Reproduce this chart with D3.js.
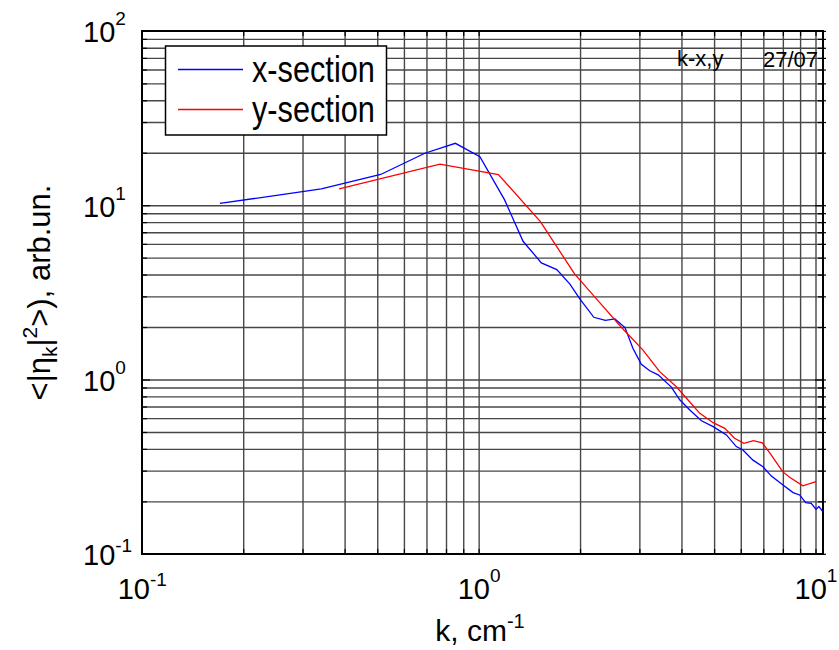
<!DOCTYPE html>
<html>
<head>
<meta charset="utf-8">
<script src="https://cdn.jsdelivr.net/npm/d3@7/dist/d3.min.js"></script>
<style>
  html, body { margin: 0; padding: 0; background: #fff; }
  svg { display: block; font-family: "Liberation Sans", Arial, sans-serif; }
</style>
</head>
<body>
<svg id="chart" width="839" height="650"></svg>
<script>
// Spectrum <|eta_k|^2> along the two sections (log-log)
const xSectionK = [0.17, 0.34, 0.51, 0.69, 0.85, 1.005, 1.19, 1.35, 1.53, 1.70, 1.86, 1.99, 2.19, 2.37, 2.53, 2.71, 2.86, 3.03, 3.21, 3.40, 3.72, 3.94, 4.22, 4.57, 4.95, 5.42, 5.80, 6.07, 6.50, 6.96, 7.37, 7.98, 8.55, 8.94, 9.32, 9.68, 10.0, 10.2, 10.45];
const xSectionV = [10.3, 12.5, 15.1, 20.0, 22.8, 19.1, 10.8, 6.25, 4.7, 4.3, 3.55, 2.92, 2.29, 2.20, 2.24, 2.0, 1.52, 1.23, 1.13, 1.07, 0.91, 0.77, 0.673, 0.584, 0.54, 0.484, 0.415, 0.397, 0.347, 0.318, 0.281, 0.25, 0.226, 0.219, 0.198, 0.196, 0.181, 0.188, 0.177];
const ySectionK = [0.384, 0.765, 1.14, 1.52, 1.92, 2.28, 2.66, 3.06, 3.43, 3.85, 4.17, 4.52, 4.95, 5.36, 5.73, 6.11, 6.52, 6.93, 7.37, 7.96, 8.35, 9.14, 10.0];
const ySectionV = [12.5, 17.3, 15.1, 8.1, 4.06, 2.78, 1.98, 1.49, 1.12, 0.915, 0.768, 0.644, 0.569, 0.528, 0.463, 0.433, 0.449, 0.436, 0.371, 0.298, 0.277, 0.247, 0.261];

const seriesNames = ["x-section", "y-section"];
const seriesColors = ["#0000ff", "#ff0000"];

const xDecades = [-1, 0, 1];
const yDecades = [-1, 0, 1, 2];
const xTitle = "k, cm";
const xTitleExp = "-1";
const annotations = ["k-x,y", "27/07"];

const svg = d3.select("#chart");

// plot frame
const box = { left: 142, top: 31, right: 823, bottom: 554 };
const x = d3.scaleLog().domain([0.1, 10]).range([142.3, 816]);
const y = d3.scaleLog().domain([0.1, 100]).range([554.3, 31.4]);

// minor/major positions for grid
function logPositions(lo, hi) {
  const out = [];
  for (let e = lo; e < hi; e++) {
    for (let m = 1; m <= 9; m++) out.push(m * Math.pow(10, e));
  }
  out.push(Math.pow(10, hi));
  return out;
}
const xGrid = logPositions(-1, 1);
const yGrid = logPositions(-1, 2);

const grid = svg.append("g").attr("stroke", "#474747").attr("stroke-width", 1.4).attr("fill", "none");
grid.selectAll("line.v").data(xGrid).join("line")
  .attr("class", "v")
  .attr("x1", d => x(d)).attr("x2", d => x(d))
  .attr("y1", box.top).attr("y2", box.bottom);
grid.selectAll("line.h").data(yGrid).join("line")
  .attr("class", "h")
  .attr("x1", box.left).attr("x2", box.right)
  .attr("y1", d => y(d)).attr("y2", d => y(d));

// ticks on all four sides
const ticks = svg.append("g").attr("stroke", "#000").attr("stroke-width", 1.2);
ticks.selectAll("line.tb").data(xGrid).join("line")
  .attr("x1", d => x(d)).attr("x2", d => x(d))
  .attr("y1", box.bottom).attr("y2", box.bottom - 5);
ticks.selectAll("line.tt").data(xGrid).join("line")
  .attr("x1", d => x(d)).attr("x2", d => x(d))
  .attr("y1", box.top).attr("y2", box.top + 5);
ticks.selectAll("line.tl").data(yGrid).join("line")
  .attr("x1", box.left).attr("x2", d => box.left + (Math.abs(Math.log10(d) % 1) < 1e-9 ? 8 : 5))
  .attr("y1", d => y(d)).attr("y2", d => y(d));
ticks.selectAll("line.tr").data(yGrid).join("line")
  .attr("x1", box.right + 3).attr("x2", d => box.right - (Math.abs(Math.log10(d) % 1) < 1e-9 ? 8 : 5))
  .attr("y1", d => y(d)).attr("y2", d => y(d));

// axis box
svg.append("rect")
  .attr("x", box.left).attr("y", box.top)
  .attr("width", box.right - box.left).attr("height", box.bottom - box.top)
  .attr("fill", "none").attr("stroke", "#000").attr("stroke-width", 2);

// data lines
svg.append("clipPath").attr("id", "plotClip").append("rect")
  .attr("x", box.left).attr("y", box.top)
  .attr("width", box.right - box.left).attr("height", box.bottom - box.top);

const line = d3.line().x(d => x(d[0])).y(d => y(d[1]));
const series = [
  d3.zip(xSectionK, xSectionV),
  d3.zip(ySectionK, ySectionV)
];
svg.append("g").attr("clip-path", "url(#plotClip)")
  .selectAll("path").data(series).join("path")
  .attr("d", line)
  .attr("fill", "none")
  .attr("stroke", (d, i) => seriesColors[i])
  .attr("stroke-width", 1.3);

// tick labels
const xLab = svg.append("g").attr("font-size", 29).attr("fill", "#000");
xDecades.forEach(e => {
  const t = xLab.append("text")
    .attr("x", x(Math.pow(10, e)))
    .attr("y", 599)
    .attr("text-anchor", "middle");
  t.append("tspan").text("10");
  t.append("tspan").attr("font-size", 19).attr("dy", e < 0 ? -13 : -17).text(String(e));
});

const yLab = svg.append("g").attr("font-size", 29).attr("fill", "#000");
yDecades.forEach(e => {
  const t = yLab.append("text")
    .attr("x", 83)
    .attr("y", y(Math.pow(10, e)) + 11);
  t.append("tspan").text("10");
  t.append("tspan").attr("font-size", 19).attr("dy", e < 0 ? -13 : -17).text(String(e));
});

// axis titles
const xt = svg.append("text")
  .attr("x", 480).attr("y", 641)
  .attr("text-anchor", "middle")
  .attr("font-size", 30);
xt.append("tspan").text(xTitle);
xt.append("tspan").attr("font-size", 20).attr("dy", -13).text(xTitleExp);

const yt = svg.append("text")
  .attr("transform", "translate(50,292.5) rotate(-90)")
  .attr("text-anchor", "middle")
  .attr("font-size", 31);
yt.append("tspan").text("<|\u03b7");
yt.append("tspan").attr("font-size", 21).attr("dy", 7).text("k");
yt.append("tspan").attr("dy", -7).text("|");
yt.append("tspan").attr("font-size", 21).attr("dy", -13).text("2");
yt.append("tspan").attr("dy", 13).text(">), arb.un.");

// corner annotations
svg.append("text").attr("x", 677).attr("y", 66).attr("font-size", 22).text(annotations[0]);
svg.append("text").attr("x", 763).attr("y", 66.5).attr("font-size", 22).text(annotations[1]);

// legend
const legend = svg.append("g");
legend.append("rect")
  .attr("x", 165.5).attr("y", 46)
  .attr("width", 221).attr("height", 89)
  .attr("fill", "#fff").attr("stroke", "#000").attr("stroke-width", 1.5);
seriesNames.forEach((name, i) => {
  const ly = 69.5 + i * 40;
  legend.append("line")
    .attr("x1", 178).attr("x2", 243)
    .attr("y1", ly).attr("y2", ly)
    .attr("stroke", seriesColors[i]).attr("stroke-width", 1.3);
  legend.append("text")
    .attr("transform", `translate(252,${ly + 12.5}) scale(0.83,1)`)
    .attr("font-size", 37)
    .text(name);
});
</script>
</body>
</html>
